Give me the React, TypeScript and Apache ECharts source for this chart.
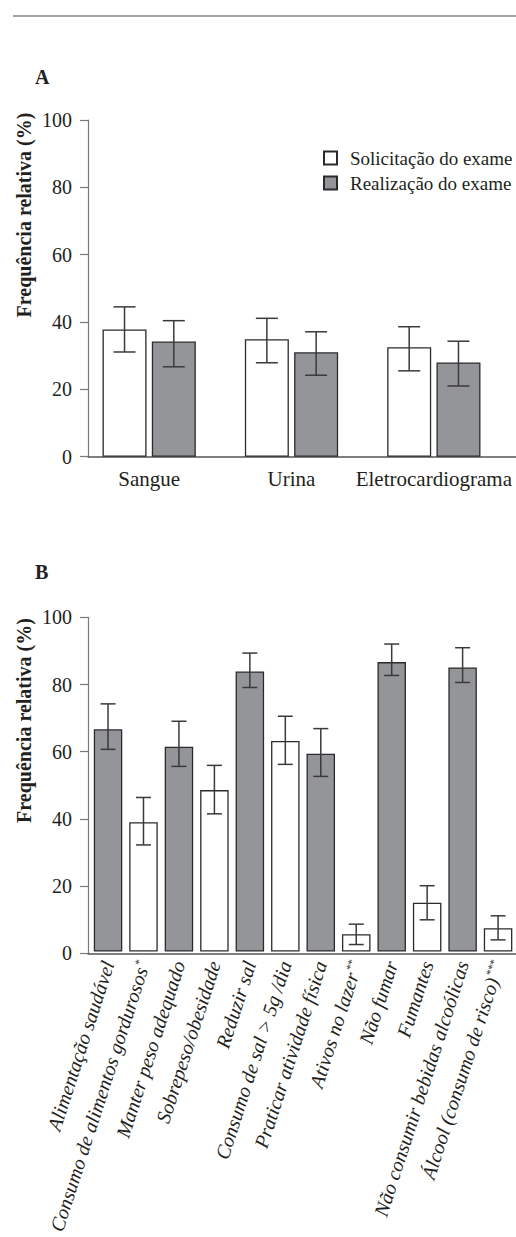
import React, { useEffect, useRef } from "react";
import * as echarts from "echarts";

// ---------- Panel A data ----------
const aCategories = ["Sangue", "Urina", "Eletrocardiograma"];
const aSeriesNames = ["Solicitação do exame", "Realização do exame"];
const aSolicitacao = [37.8, 34.9, 32.5];
const aSolicitacaoLow = [31.1, 27.9, 25.5];
const aSolicitacaoHigh = [44.5, 41.1, 38.6];
const aRealizacao = [34.2, 31.0, 28.0];
const aRealizacaoLow = [26.7, 24.2, 21.0];
const aRealizacaoHigh = [40.4, 37.1, 34.3];

// ---------- Panel B data ----------
const bCategories = [
  "Alimentação saudável",
  "Consumo de alimentos gordurosos*",
  "Manter peso adequado",
  "Sobrepeso/obesidade",
  "Reduzir sal",
  "Consumo de sal > 5g /dia",
  "Praticar atividade física",
  "Ativos no lazer**",
  "Não fumar",
  "Fumantes",
  "Não consumir bebidas alcoólicas",
  "Álcool (consumo de risco)***",
];
const bValues = [66.5, 38.7, 61.3, 48.3, 83.8, 63.0, 59.2, 5.2, 86.6, 14.6, 85.0, 7.0];
const bLow = [60.5, 31.9, 55.4, 41.2, 79.0, 56.0, 52.4, 2.1, 82.6, 9.5, 80.5, 3.5];
const bHigh = [74.1, 46.1, 68.9, 55.7, 89.3, 70.4, 66.7, 8.2, 92.0, 19.7, 90.9, 10.7];
const bKind = ["orientacao", "condicao", "orientacao", "condicao", "orientacao", "condicao",
  "orientacao", "condicao", "orientacao", "condicao", "orientacao", "condicao"];

const yTicks = [0, 20, 40, 60, 80, 100];

const FONT = "Liberation Serif";
const GRAY = "#939598";
const EDGE = "#2b2b2b";
const TXT = "#231f20";

export default function App() {
  const ref = useRef<HTMLDivElement>(null);
  useEffect(() => {
    if (!ref.current) return;
    const chart = echarts.init(ref.current, undefined, { renderer: "svg" });

    const errRender = (offset: number, capW: number) => (params: any, api: any) => {
      const idx = api.value(0);
      const lo = api.coord([idx, api.value(1)]);
      const hi = api.coord([idx, api.value(2)]);
      const x = lo[0] + offset;
      const hw = capW / 2;
      const style = { stroke: "#3a3a3a", lineWidth: 1.5 };
      return {
        type: "group",
        children: [
          { type: "line", shape: { x1: x, y1: hi[1], x2: x, y2: lo[1] }, style },
          { type: "line", shape: { x1: x - hw, y1: hi[1], x2: x + hw, y2: hi[1] }, style },
          { type: "line", shape: { x1: x - hw, y1: lo[1], x2: x + hw, y2: lo[1] }, style },
        ],
      };
    };

    const yMax = yTicks[yTicks.length - 1];
    const visibleY = (gridIndex: number) => ({
      type: "value",
      gridIndex,
      min: yTicks[0],
      max: yMax,
      interval: yTicks[1] - yTicks[0],
      splitLine: { show: false },
      axisLine: { show: true, lineStyle: { color: "#7a7a7a", width: 1.2 } },
      axisTick: { show: true, length: 8, lineStyle: { color: "#7a7a7a", width: 1.2 } },
      axisLabel: { color: TXT, fontSize: 20, fontFamily: FONT, margin: 16 },
    });
    const hiddenY = (gridIndex: number) => ({
      type: "value",
      gridIndex,
      min: yTicks[0],
      max: yMax,
      show: false,
    });
    const frameX = (gridIndex: number) => ({
      type: "category",
      gridIndex,
      data: [""],
      axisLine: { show: true, lineStyle: { color: "#555", width: 1.5 } },
      axisTick: { show: false },
      axisLabel: { show: false },
    });

    const aBarW = 44;
    const aGap = 0.12;
    const aOff = (aBarW * (1 + aGap)) / 2;

    const supFormatter = (v: string) => {
      const m = v.match(/^(.*?)(\*+)$/);
      return m ? `${m[1]}{sup|${m[2]}}` : v;
    };

    const option: any = {
      animation: false,
      backgroundColor: "#ffffff",
      grid: [
        { left: 88, top: 120, width: 428, height: 336.7 },
        { left: 78, top: 120, width: 427, height: 336.7 },
        { left: 88, top: 617.3, width: 428, height: 336 },
        { left: 90.3, top: 617.3, width: 425.5, height: 336 },
      ],
      xAxis: [
        frameX(0),
        {
          type: "category",
          gridIndex: 1,
          data: aCategories,
          axisLine: { show: false },
          axisTick: { show: false },
          axisLabel: { color: TXT, fontSize: 21, fontFamily: FONT, margin: 12, interval: 0, hideOverlap: false },
        },
        frameX(2),
        {
          type: "category",
          gridIndex: 3,
          data: bCategories,
          axisLine: { show: false },
          axisTick: { show: false },
          axisLabel: {
            color: TXT,
            fontSize: 20,
            fontStyle: "italic",
            fontFamily: FONT,
            rotate: 72,
            margin: 10,
            interval: 0,
            formatter: supFormatter,
            rich: {
              sup: { fontSize: 11, fontStyle: "italic", fontFamily: FONT, color: TXT, verticalAlign: "top", padding: [0, 0, 8, 1] },
            },
          },
        },
      ],
      yAxis: [visibleY(0), hiddenY(1), visibleY(2), hiddenY(3)],
      legend: {
        data: aSeriesNames,
        orient: "vertical",
        left: 323,
        top: 148,
        padding: 0,
        itemWidth: 13,
        itemHeight: 13,
        itemGap: 5,
        icon: "rect",
        textStyle: { color: TXT, fontSize: 19, fontFamily: FONT, lineHeight: 20, padding: [0, 0, 0, 8] },
      },
      graphic: [
        { type: "line", shape: { x1: 13, y1: 16, x2: 516, y2: 16 }, style: { stroke: "#444", lineWidth: 1 } },
        { type: "text", left: 35, top: 67, style: { text: "A", font: `bold 20px ${FONT}`, fill: TXT } },
        { type: "text", left: 35, top: 562, style: { text: "B", font: `bold 20px ${FONT}`, fill: TXT } },
        {
          type: "text", x: 23.5, y: 215, rotation: Math.PI / 2,
          style: { text: "Frequência relativa (%)", font: `bold 20px ${FONT}`, fill: TXT, align: "center", verticalAlign: "middle" },
        },
        {
          type: "text", x: 23.5, y: 720.5, rotation: Math.PI / 2,
          style: { text: "Frequência relativa (%)", font: `bold 20px ${FONT}`, fill: TXT, align: "center", verticalAlign: "middle" },
        },
      ],
      series: [
        {
          name: aSeriesNames[0],
          type: "bar",
          xAxisIndex: 1,
          yAxisIndex: 1,
          barWidth: aBarW,
          barGap: `${aGap * 100}%`,
          data: aSolicitacao,
          itemStyle: { color: "#ffffff", borderColor: EDGE, borderWidth: 1.3 },
        },
        {
          name: aSeriesNames[1],
          type: "bar",
          xAxisIndex: 1,
          yAxisIndex: 1,
          barWidth: aBarW,
          barGap: `${aGap * 100}%`,
          data: aRealizacao,
          itemStyle: { color: GRAY, borderColor: EDGE, borderWidth: 1.3 },
        },
        {
          type: "custom",
          xAxisIndex: 1,
          yAxisIndex: 1,
          z: 5,
          renderItem: errRender(-aOff, 22),
          encode: { x: 0, y: [1, 2] },
          data: aCategories.map((_, i) => [i, aSolicitacaoLow[i], aSolicitacaoHigh[i]]),
        },
        {
          type: "custom",
          xAxisIndex: 1,
          yAxisIndex: 1,
          z: 5,
          renderItem: errRender(aOff, 22),
          encode: { x: 0, y: [1, 2] },
          data: aCategories.map((_, i) => [i, aRealizacaoLow[i], aRealizacaoHigh[i]]),
        },
        {
          name: "Orientação",
          type: "bar",
          xAxisIndex: 3,
          yAxisIndex: 3,
          barWidth: 28.5,
          barGap: "-100%",
          data: bValues.map((v, i) => (bKind[i] === "orientacao" ? v : "-")),
          itemStyle: { color: GRAY, borderColor: EDGE, borderWidth: 1.3 },
        },
        {
          name: "Condição",
          type: "bar",
          xAxisIndex: 3,
          yAxisIndex: 3,
          barWidth: 28.5,
          barGap: "-100%",
          data: bValues.map((v, i) => (bKind[i] === "condicao" ? v : "-")),
          itemStyle: { color: "#ffffff", borderColor: EDGE, borderWidth: 1.3 },
        },
        {
          type: "custom",
          xAxisIndex: 3,
          yAxisIndex: 3,
          z: 5,
          renderItem: errRender(0, 15),
          encode: { x: 0, y: [1, 2] },
          data: bCategories.map((_, i) => [i, bLow[i], bHigh[i]]),
        },
      ],
    };

    chart.setOption(option);
    return () => chart.dispose();
  }, []);

  return (
    <div
      ref={ref}
      style={{ position: "absolute", left: 0, top: 0, width: 516, height: 1237, background: "#fff" }}
    />
  );
}
